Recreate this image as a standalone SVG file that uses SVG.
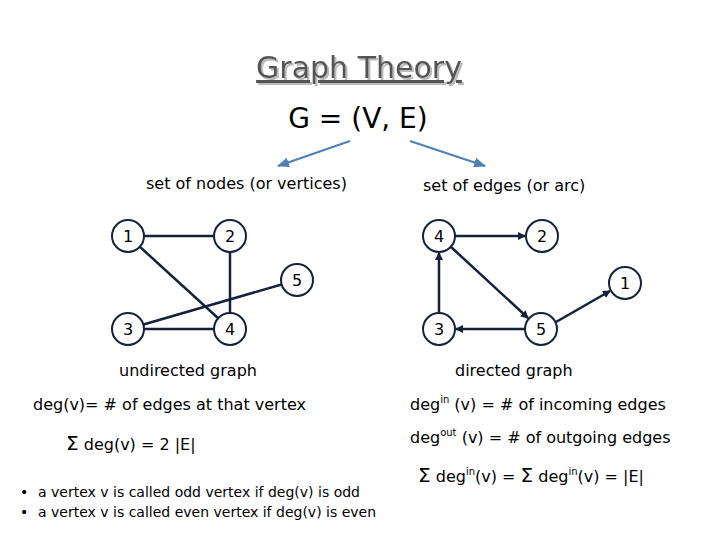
<svg xmlns="http://www.w3.org/2000/svg" width="720" height="540" viewBox="0 0 720 540">
<style>
text{font-family:"DejaVu Sans",sans-serif;fill:#000}
.n circle{fill:#fff;stroke:#13213a;stroke-width:2}
.n text{font-size:16px;text-anchor:middle}
.e line{stroke:#13213a;stroke-width:2.5}
.t{font-size:16px}
</style>
<defs>
<marker id="a" markerWidth="8" markerHeight="8" refX="7" refY="4" orient="auto" markerUnits="userSpaceOnUse"><path d="M0,0L8,4L0,8z" fill="#13213a"/></marker>
<marker id="b" markerWidth="12" markerHeight="10" refX="11" refY="5" orient="auto" markerUnits="userSpaceOnUse"><path d="M0,0L12,5L0,10z" fill="#4f7fb5"/></marker>
<filter id="sh" x="-10%" y="-20%" width="120%" height="150%"><feDropShadow dx="2" dy="2" stdDeviation="0.5" flood-color="#bbb"/></filter>
</defs>
<text x="359" y="78" font-size="30" text-anchor="middle" text-decoration="underline" style="fill:#555" filter="url(#sh)">Graph Theory</text>
<text x="358" y="128" font-size="28" text-anchor="middle">G = (V, E)</text>
<g id="top-arrows">
<line x1="350" y1="141" x2="278" y2="166" stroke="#4f7fb5" stroke-width="2" marker-end="url(#b)"/>
<line x1="410" y1="141" x2="485" y2="166" stroke="#4f7fb5" stroke-width="2" marker-end="url(#b)"/>
</g>
<text class="t" x="146" y="189">set of nodes (or vertices)</text>
<text class="t" x="423" y="191">set of edges (or arc)</text>
<g class="e" id="connectors">
<line x1="128" y1="236" x2="230" y2="236"/>
<line x1="128" y1="236" x2="230" y2="329"/>
<line x1="230" y1="236" x2="230" y2="329"/>
<line x1="128" y1="329" x2="297" y2="280"/>
<line x1="128" y1="329" x2="230" y2="329"/>
<line x1="455" y1="236" x2="525" y2="236" marker-end="url(#a)"/>
<line x1="439" y1="313" x2="439" y2="253" marker-end="url(#a)"/>
<line x1="451" y1="247" x2="528" y2="318" marker-end="url(#a)"/>
<line x1="525" y1="329" x2="456" y2="329" marker-end="url(#a)"/>
<line x1="556" y1="322" x2="610" y2="291" marker-end="url(#a)"/>
</g>
<g class="n" id="u1"><circle cx="128" cy="236" r="16"/><text x="128" y="242">1</text></g>
<g class="n" id="u2"><circle cx="230" cy="236" r="16"/><text x="230" y="242">2</text></g>
<g class="n" id="u5"><circle cx="297" cy="280" r="16"/><text x="297" y="286">5</text></g>
<g class="n" id="u3"><circle cx="128" cy="329" r="16"/><text x="128" y="335">3</text></g>
<g class="n" id="u4"><circle cx="230" cy="329" r="16"/><text x="230" y="335">4</text></g>
<g class="n" id="d4"><circle cx="439" cy="236" r="16"/><text x="439" y="242">4</text></g>
<g class="n" id="d2"><circle cx="542" cy="236" r="16"/><text x="542" y="242">2</text></g>
<g class="n" id="d1"><circle cx="625" cy="283" r="16"/><text x="625" y="289">1</text></g>
<g class="n" id="d3"><circle cx="439" cy="329" r="16"/><text x="439" y="335">3</text></g>
<g class="n" id="d5"><circle cx="541" cy="329" r="16"/><text x="541" y="335">5</text></g>
<text class="t" x="119" y="376">undirected graph</text>
<text class="t" x="455" y="376">directed graph</text>
<text class="t" x="33" y="410">deg(v)= # of edges at that vertex</text>
<text class="t" x="66" y="450"><tspan font-size="20">Σ</tspan> deg(v) = 2 |E|</text>
<text class="t" x="410" y="410">deg<tspan font-size="10" dy="-7">in</tspan><tspan dy="7"> (v) = # of incoming edges</tspan></text>
<text class="t" x="410" y="443">deg<tspan font-size="10" dy="-7">out</tspan><tspan dy="7"> (v) = # of outgoing edges</tspan></text>
<text class="t" x="418" y="482"><tspan font-size="20">Σ</tspan> deg<tspan font-size="10" dy="-7">in</tspan><tspan dy="7">(v) = </tspan><tspan font-size="20">Σ</tspan> deg<tspan font-size="10" dy="-7">in</tspan><tspan dy="7">(v) = |E|</tspan></text>
<text x="20" y="497" font-size="14">•<tspan x="38">a vertex v is called odd vertex if deg(v) is odd</tspan></text>
<text x="20" y="517" font-size="14">•<tspan x="38">a vertex v is called even vertex if deg(v) is even</tspan></text>
</svg>
